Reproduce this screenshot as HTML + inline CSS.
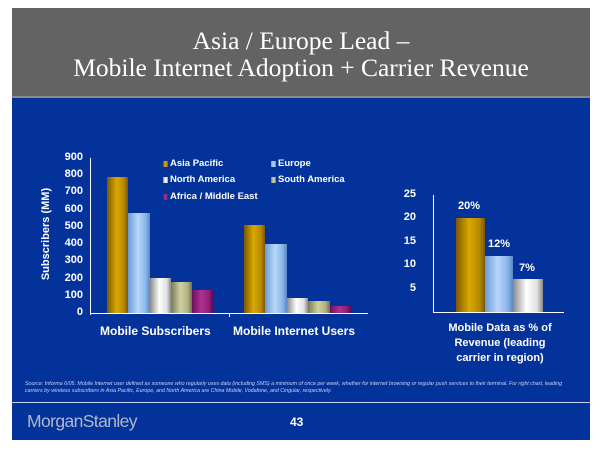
<!DOCTYPE html>
<html><head><style>
body{margin:0;width:600px;height:450px;background:#fff;position:relative;overflow:hidden;font-family:"Liberation Sans",sans-serif}
.a{position:absolute}
.ttl{left:12px;top:8px;width:578px;height:88px;background:#636363;color:#fff;font-family:"Liberation Serif",serif;font-size:25.5px;line-height:27px;text-align:center;padding-top:19px;box-sizing:border-box}
.blue{left:12px;top:98px;width:578px;height:342px;background:#03329a}
.bar{position:absolute}
.ap{background:linear-gradient(90deg,#7a5800,#d9a800 45%,#b88a00 80%,#7a5800)}
.eu{background:linear-gradient(90deg,#6a9ad8,#b8d8fa 45%,#8ab6ea 80%,#5a86c4)}
.na{background:linear-gradient(90deg,#8a8a8a,#ffffff 45%,#e0e0e0 80%,#8a8a8a)}
.sa{background:linear-gradient(90deg,#7a7a58,#d0d0a0 45%,#b0b080 80%,#707050)}
.am{background:linear-gradient(90deg,#6a1060,#b03090 45%,#902078 80%,#5a0a50)}
.t{position:absolute;color:#fff;font-weight:bold;font-size:11px}
.tk{position:absolute;color:#fff;font-weight:bold;font-size:11px;text-align:right;width:30px}
.lg{position:absolute;color:#fff;font-weight:bold;font-size:9.5px}
.sq{position:absolute;width:5px;height:6px}
</style></head><body>
<div class="a ttl">Asia / Europe Lead –<br>Mobile Internet Adoption + Carrier Revenue</div>
<div class="a blue"></div>
<div class="a" style="left:12px;top:96px;width:578px;height:2px;background:#8a8a8a"></div>

<div class="a" style="left:90px;top:158px;width:1px;height:157px;background:#fff"></div>
<div class="a" style="left:90px;top:313px;width:278px;height:1px;background:#fff"></div>
<div class="a" style="left:229px;top:313px;width:1px;height:4px;background:#fff"></div>
<div class="tk" style="left:53px;top:151px">900</div>
<div class="tk" style="left:53px;top:168px">800</div>
<div class="tk" style="left:53px;top:185px">700</div>
<div class="tk" style="left:53px;top:203px">600</div>
<div class="tk" style="left:53px;top:220px">500</div>
<div class="tk" style="left:53px;top:237px">400</div>
<div class="tk" style="left:53px;top:254px">300</div>
<div class="tk" style="left:53px;top:272px">200</div>
<div class="tk" style="left:53px;top:289px">100</div>
<div class="tk" style="left:53px;top:306px">0</div>
<div class="t" style="left:-14px;top:228px;transform:rotate(-90deg);width:120px;text-align:center;font-size:11px">Subscribers (MM)</div>

<div class="bar ap" style="left:107px;top:177px;width:21px;height:136px"></div>
<div class="bar eu" style="left:128px;top:213px;width:22px;height:100px"></div>
<div class="bar na" style="left:150px;top:278px;width:21px;height:35px"></div>
<div class="bar sa" style="left:171px;top:282px;width:21px;height:31px"></div>
<div class="bar am" style="left:192px;top:290px;width:21px;height:23px"></div>
<div class="bar ap" style="left:244px;top:225px;width:21px;height:88px"></div>
<div class="bar eu" style="left:265px;top:244px;width:22px;height:69px"></div>
<div class="bar na" style="left:287px;top:298px;width:21px;height:15px"></div>
<div class="bar sa" style="left:308px;top:301px;width:22px;height:12px"></div>
<div class="bar am" style="left:330px;top:306px;width:21px;height:7px"></div>

<div class="sq ap" style="left:163px;top:161px"></div><div class="lg" style="left:170px;top:158px">Asia Pacific</div>
<div class="sq eu" style="left:271px;top:161px"></div><div class="lg" style="left:278px;top:158px">Europe</div>
<div class="sq na" style="left:163px;top:177px"></div><div class="lg" style="left:170px;top:174px">North America</div>
<div class="sq sa" style="left:271px;top:177px"></div><div class="lg" style="left:278px;top:174px">South America</div>
<div class="sq am" style="left:163px;top:194px"></div><div class="lg" style="left:170px;top:191px">Africa / Middle East</div>

<div class="t" style="left:100px;top:324px;font-size:12px">Mobile Subscribers</div>
<div class="t" style="left:233px;top:324px;font-size:12px">Mobile Internet Users</div>

<div class="a" style="left:433px;top:195px;width:1px;height:118px;background:#fff"></div>
<div class="a" style="left:433px;top:312px;width:131px;height:1px;background:#fff"></div>
<div class="tk" style="left:386px;top:188px">25</div>
<div class="tk" style="left:386px;top:211px">20</div>
<div class="tk" style="left:386px;top:235px">15</div>
<div class="tk" style="left:386px;top:258px">10</div>
<div class="tk" style="left:386px;top:282px">5</div>
<div class="bar ap" style="left:456px;top:218px;width:29px;height:94px"></div>
<div class="bar eu" style="left:485px;top:256px;width:28px;height:56px"></div>
<div class="bar na" style="left:513px;top:279px;width:30px;height:33px"></div>
<div class="t" style="left:458px;top:200px">20%</div>
<div class="t" style="left:488px;top:238px">12%</div>
<div class="t" style="left:519px;top:262px">7%</div>
<div class="t" style="left:430px;top:321px;width:140px;text-align:center;line-height:15px">Mobile Data as % of<br>Revenue (leading<br>carrier in region)</div>

<div class="a" style="left:25px;top:381px;width:552px;color:#c8d0f0;font-style:italic;font-size:5.3px;line-height:7px">Source: Informa 6/05. Mobile Internet user defined as someone who regularly uses data (including SMS) a minimum of once per week, whether for internet browsing or regular push services to their terminal. For right chart, leading carriers by wireless subscribers in Asia Pacific, Europe, and North America are China Mobile, Vodafone, and Cingular, respectively.</div>
<div class="a" style="left:12px;top:402px;width:578px;height:1px;background:#c8d0f0"></div>
<div class="a" style="left:27px;top:411px;color:#b0b8c8;font-size:17.5px;letter-spacing:-0.6px">MorganStanley</div>
<div class="a" style="left:290px;top:415px;color:#fff;font-weight:bold;font-size:12px">43</div>
</body></html>
